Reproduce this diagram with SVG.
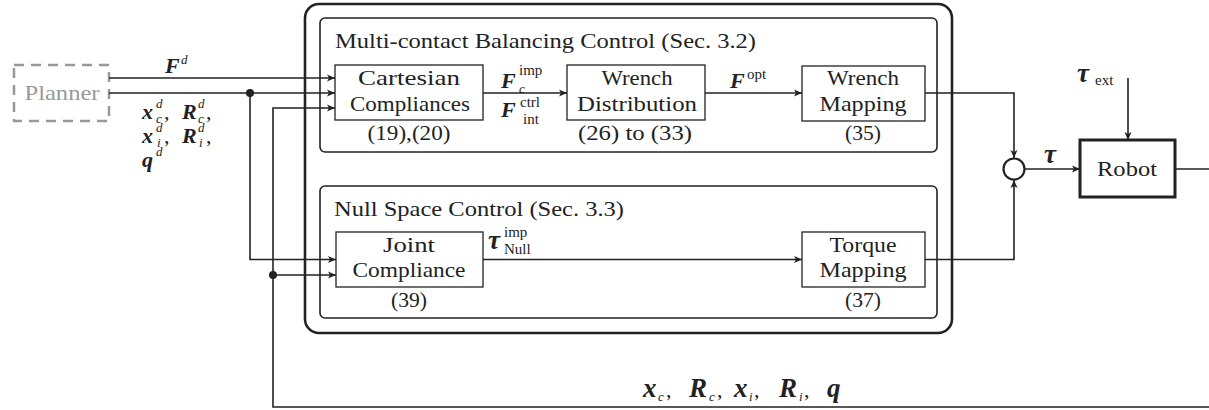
<svg xmlns="http://www.w3.org/2000/svg" width="1209" height="410" viewBox="0 0 1209 410">
  <style>
    .ln { fill: none; stroke: #222; stroke-width: 1.6; }
    .box { fill: #fff; stroke: #222; stroke-width: 1.3; }
    .panel { fill: none; stroke: #222; stroke-width: 1.6; }
    .lbl { font-family: "Liberation Serif", "DejaVu Serif", serif; font-size: 22px; fill: #222; }
    .mid { text-anchor: middle; }
    .m { font-family: "Liberation Serif", "DejaVu Serif", serif; font-size: 22px; font-weight: bold; font-style: italic; fill: #222; }
    .si { font-size: 13px; font-weight: normal; font-style: italic; }
    .sr { font-size: 15px; font-weight: normal; font-style: normal; }
    .cm { font-size: 22px; font-weight: normal; font-style: normal; }
    .big { font-size: 27px; }
  </style>
  <defs>
    <marker id="ah" viewBox="-9 -4 10 8" refX="0" refY="0" markerWidth="10" markerHeight="8" orient="auto" markerUnits="userSpaceOnUse">
      <path d="M0,0 L-8,-3.5 L-6,0 L-8,3.5 Z" fill="#222"/>
    </marker>
  </defs>
  <rect width="1209" height="410" fill="#fff"/>

  <!-- planner (greyed out source block) -->
  <g id="planner">
    <rect x="14" y="65" width="95" height="56" fill="none" stroke="#999" stroke-width="2.5" stroke-dasharray="10,7"/>
    <text class="lbl mid" x="62" y="100" style="fill:#999" font-size="20" textLength="75" lengthAdjust="spacingAndGlyphs">Planner</text>
  </g>

  <!-- controller frame with its two sub-panels -->
  <g id="controller">
    <rect x="305" y="4" width="647" height="329" rx="14" fill="none" stroke="#222" stroke-width="2.6"/>
  </g>
  <g id="balancing-panel">
    <rect class="panel" x="320" y="18" width="617" height="134" rx="5"/>
    <text class="lbl" x="335" y="48" textLength="421" lengthAdjust="spacingAndGlyphs">Multi-contact Balancing Control (Sec. 3.2)</text>
  </g>
  <g id="nullspace-panel">
    <rect class="panel" x="320" y="186" width="617" height="132" rx="5"/>
    <text class="lbl" x="334" y="216" textLength="290" lengthAdjust="spacingAndGlyphs">Null Space Control (Sec. 3.3)</text>
  </g>

  <!-- connectors -->
  <g id="connectors">
    <path class="ln" d="M109,78 H335" marker-end="url(#ah)"/>
    <path class="ln" d="M109,93 H335" marker-end="url(#ah)"/>
    <path class="ln" d="M250,93 V259.5 H336" marker-end="url(#ah)"/>
    <path class="ln" d="M1209,407 H273 V108 H335" marker-end="url(#ah)"/>
    <path class="ln" d="M273,275 H336" marker-end="url(#ah)"/>
    <path class="ln" d="M483,93 H567" marker-end="url(#ah)"/>
    <path class="ln" d="M705,93 H802" marker-end="url(#ah)"/>
    <path class="ln" d="M925,93 H1014 V158" marker-end="url(#ah)"/>
    <path class="ln" d="M483,259.5 H802" marker-end="url(#ah)"/>
    <path class="ln" d="M925,259.5 H1014 V180" marker-end="url(#ah)"/>
    <path class="ln" d="M1025,169 H1080" marker-end="url(#ah)"/>
    <path class="ln" d="M1128,78 V140" marker-end="url(#ah)"/>
    <path class="ln" d="M1175,169 H1209"/>
    <circle cx="250" cy="93" r="4" fill="#222"/>
    <circle cx="273" cy="275" r="4" fill="#222"/>
  </g>

  <!-- blocks -->
  <g id="cartesian-compliances">
    <rect class="box" x="335" y="65" width="148" height="55"/>
    <text class="lbl mid" x="409" y="85" textLength="102" lengthAdjust="spacingAndGlyphs">Cartesian</text>
    <text class="lbl mid" x="410" y="111" textLength="120" lengthAdjust="spacingAndGlyphs">Compliances</text>
    <text class="lbl mid" x="409" y="140" textLength="83" lengthAdjust="spacingAndGlyphs">(19),(20)</text>
  </g>
  <g id="wrench-distribution">
    <rect class="box" x="567" y="65" width="138" height="55"/>
    <text class="lbl mid" x="637" y="85" textLength="71" lengthAdjust="spacingAndGlyphs">Wrench</text>
    <text class="lbl mid" x="637" y="111" textLength="120" lengthAdjust="spacingAndGlyphs">Distribution</text>
    <text class="lbl mid" x="635" y="140" textLength="114" lengthAdjust="spacingAndGlyphs">(26) to (33)</text>
  </g>
  <g id="wrench-mapping">
    <rect class="box" x="802" y="66" width="123" height="55"/>
    <text class="lbl mid" x="863" y="85" textLength="72" lengthAdjust="spacingAndGlyphs">Wrench</text>
    <text class="lbl mid" x="863" y="111" textLength="87" lengthAdjust="spacingAndGlyphs">Mapping</text>
    <text class="lbl mid" x="863" y="140" textLength="36" lengthAdjust="spacingAndGlyphs">(35)</text>
  </g>
  <g id="joint-compliance">
    <rect class="box" x="336" y="232" width="147" height="55"/>
    <text class="lbl mid" x="409" y="252" textLength="52" lengthAdjust="spacingAndGlyphs">Joint</text>
    <text class="lbl mid" x="409" y="277" textLength="113" lengthAdjust="spacingAndGlyphs">Compliance</text>
    <text class="lbl mid" x="409" y="307" textLength="36" lengthAdjust="spacingAndGlyphs">(39)</text>
  </g>
  <g id="torque-mapping">
    <rect class="box" x="802" y="232" width="123" height="55"/>
    <text class="lbl mid" x="863" y="252" textLength="67" lengthAdjust="spacingAndGlyphs">Torque</text>
    <text class="lbl mid" x="863" y="277" textLength="87" lengthAdjust="spacingAndGlyphs">Mapping</text>
    <text class="lbl mid" x="863" y="307" textLength="36" lengthAdjust="spacingAndGlyphs">(37)</text>
  </g>
  <g id="sum">
    <circle cx="1014" cy="169" r="10.5" fill="#fff" stroke="#222" stroke-width="2.2"/>
  </g>
  <g id="robot">
    <rect x="1080" y="140" width="95" height="57" fill="#fff" stroke="#222" stroke-width="3"/>
    <text class="lbl mid" x="1127" y="176" textLength="60" lengthAdjust="spacingAndGlyphs">Robot</text>
  </g>

  <!-- signal labels (symbols with their sub/superscripts) -->
  <g id="signal-labels">
    <text class="m"><tspan x="165" y="73">F</tspan><tspan class="si" x="181" y="64">d</tspan></text>
    <text class="m"><tspan x="142" y="119">x</tspan><tspan class="si" x="156" y="108">d</tspan><tspan class="si" x="156" y="123">c</tspan><tspan class="cm" x="164" y="119">,</tspan><tspan x="182" y="119">R</tspan><tspan class="si" x="198" y="108">d</tspan><tspan class="si" x="198" y="123">c</tspan><tspan class="cm" x="206" y="119">,</tspan></text>
    <text class="m"><tspan x="142" y="143">x</tspan><tspan class="si" x="156" y="132">d</tspan><tspan class="si" x="157" y="147">i</tspan><tspan class="cm" x="164" y="143">,</tspan><tspan x="182" y="143">R</tspan><tspan class="si" x="198" y="132">d</tspan><tspan class="si" x="199" y="147">i</tspan><tspan class="cm" x="206" y="143">,</tspan></text>
    <text class="m"><tspan x="142" y="167">q</tspan><tspan class="si" x="156" y="156">d</tspan></text>
    <text class="m"><tspan x="501" y="88">F</tspan><tspan class="sr" x="519" y="75">imp</tspan><tspan class="si" x="519" y="93">c</tspan></text>
    <text class="m"><tspan x="501" y="117">F</tspan><tspan class="sr" x="520" y="107">ctrl</tspan><tspan class="sr" x="523" y="124">int</tspan></text>
    <text class="m"><tspan x="730" y="88">F</tspan><tspan class="sr" x="747" y="79">opt</tspan></text>
    <text class="m"><tspan class="big" x="488" y="249">τ</tspan><tspan class="sr" x="504" y="237">imp</tspan><tspan class="sr" x="504" y="254">Null</tspan></text>
    <text class="m big" x="1044" y="163">τ</text>
    <text class="m"><tspan class="big" x="1077" y="82">τ</tspan><tspan class="sr" x="1095" y="85">ext</tspan></text>
    <text class="m big"><tspan x="643" y="397">x</tspan><tspan class="si" x="658" y="401">c</tspan><tspan class="cm" x="666" y="397">,</tspan><tspan x="689" y="397">R</tspan><tspan class="si" x="709" y="401">c</tspan><tspan class="cm" x="717" y="397">,</tspan><tspan x="734" y="397">x</tspan><tspan class="si" x="749" y="401">i</tspan><tspan class="cm" x="754" y="397">,</tspan><tspan x="779" y="397">R</tspan><tspan class="si" x="799" y="401">i</tspan><tspan class="cm" x="804" y="397">,</tspan><tspan x="827" y="397">q</tspan></text>
  </g>
</svg>
